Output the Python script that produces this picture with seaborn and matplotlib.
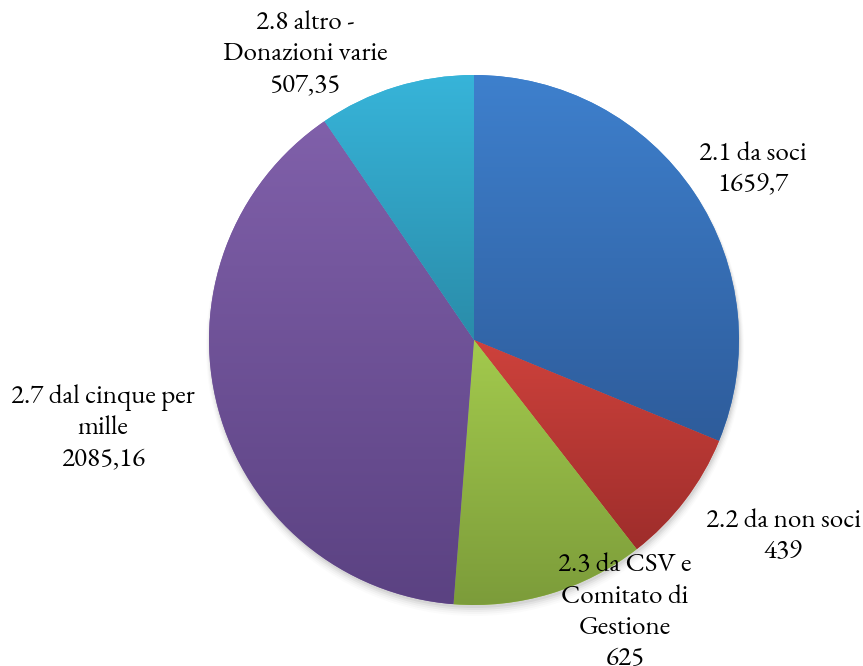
import numpy as np
import matplotlib
matplotlib.use("Agg")
import matplotlib.pyplot as plt
import matplotlib.colors as mcolors
import seaborn as sns

# data
categories = ["2.1 da soci", "2.2 da non soci", "2.3 da CSV e\nComitato di\nGestione",
              "2.7 dal cinque per\nmille", "2.8 altro -\nDonazioni varie"]
values = [1659.7, 439, 625, 2085.16, 507.35]
value_labels = ["1659,7", "439", "625", "2085,16", "507,35"]

# slice colours, light (top) -> dark (bottom) like the excel style
top_colors = ["#3E80CD", "#CE423C", "#A3CA4D", "#8060AA", "#37B4D9"]
bottom_colors = ["#2E5C9B", "#9E2D2B", "#7C9C3A", "#5B4282", "#2A8CA9"]

# label placement (pixel coords of text centre, y from top)
label_pos = [(753, 170), (783, 537), (625, 613), (103, 429), (305, 55)]

W, H = 863, 666
sns.set_theme(style="white")
serif_fonts = ['EB Garamond', 'Liberation Serif', 'DejaVu Serif']
plt.rcParams['font.family'] = serif_fonts

fig = plt.figure(figsize=(W / 100, H / 100), dpi=100)
ax = fig.add_axes([0, 0, 1, 1])
ax.set_xlim(0, W)
ax.set_ylim(0, H)
ax.axis("off")

center = (474, H - 340)
radius = 265

# soft shadow under the pie
for k, a in enumerate(np.linspace(0.05, 0.015, 5)):
    sh = plt.Circle((center[0] + 1, center[1] - 3 - k), radius + k, color="#000000",
                    alpha=a, lw=0, zorder=0)
    ax.add_patch(sh)

wedges, _ = ax.pie(values, center=center, radius=radius, startangle=90,
                   counterclock=False, colors=top_colors,
                   wedgeprops=dict(linewidth=0), frame=True)

for w, c_top, c_bot in zip(wedges, top_colors, bottom_colors):
    bb = w.get_path().get_extents()
    grad = np.linspace(0, 1, 256)[:, None]
    ct = np.array(mcolors.to_rgb(c_top))
    cb = np.array(mcolors.to_rgb(c_bot))
    img = (cb[None, None, :] * (1 - grad[..., None]) + ct[None, None, :] * grad[..., None])
    im = ax.imshow(img, extent=(bb.x0, bb.x1, bb.y0, bb.y1), origin="lower",
                   aspect="auto", zorder=2, interpolation="bilinear")
    im.set_clip_path(w)

ax.set_xlim(0, W)
ax.set_ylim(0, H)
ax.set_aspect("auto")
ax.axis("off")

for cat, val, (x, y) in zip(categories, value_labels, label_pos):
    ax.text(x, H - y, cat + "\n" + val, ha="center", va="center", fontsize=19.5,
            family=serif_fonts, color="#000000", linespacing=1.24, zorder=5)

fig.savefig("out.png", dpi=100, facecolor="white")
